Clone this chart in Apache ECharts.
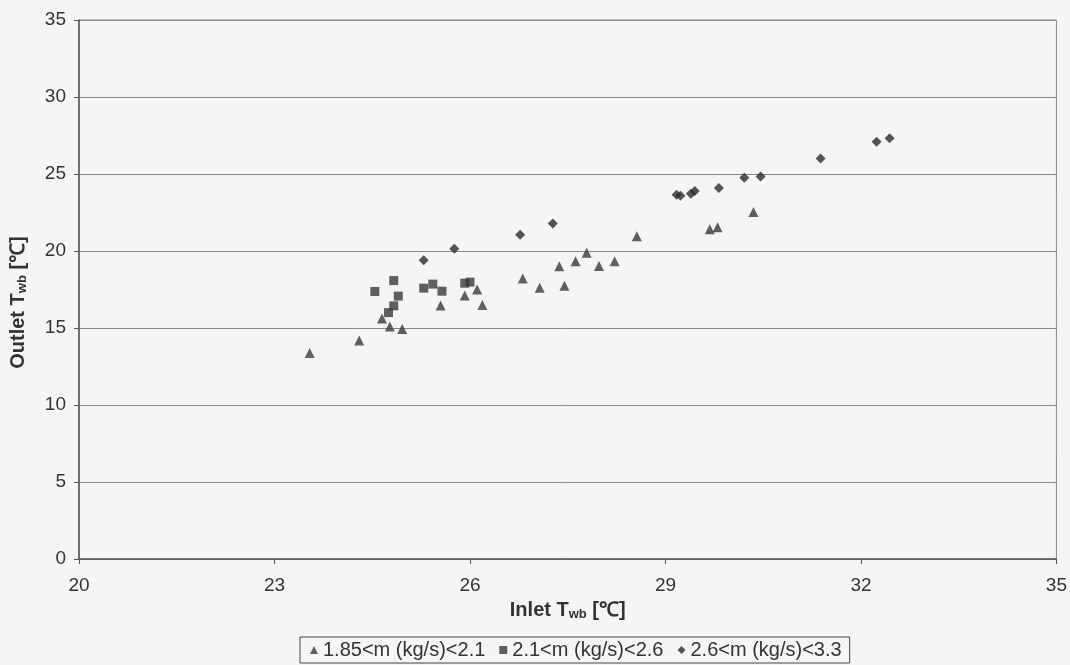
<!DOCTYPE html>
<html><head><meta charset="utf-8">
<script src="https://cdn.jsdelivr.net/npm/echarts@6/dist/echarts.min.js"></script>
<style>html,body{margin:0;padding:0;background:#f5f5f4;}#c{width:1070px;height:665px;}</style>
</head><body><div id="c"></div>
<script>
const seriesNames = ['1.85<m (kg/s)<2.1', '2.1<m (kg/s)<2.6', '2.6<m (kg/s)<3.3'];
const lowX  = [23.54,24.30,24.65,24.77,24.96,25.55,25.92,26.11,26.19,26.81,27.07,27.37,27.45,27.62,27.79,27.98,28.22,28.56,29.68,29.80,30.35];
const lowY  = [13.37,14.19,15.61,15.09,14.93,16.46,17.11,17.50,16.50,18.21,17.61,19.01,17.75,19.34,19.88,19.03,19.34,20.95,21.41,21.54,22.54];
const midX  = [24.54,24.83,24.90,24.83,24.75,25.29,25.43,25.57,25.92,26.00];
const midY  = [17.37,18.08,17.07,16.44,16.00,17.59,17.85,17.39,17.91,17.98];
const highX = [25.29,25.76,26.77,27.27,29.17,29.23,29.39,29.45,29.82,30.21,30.46,31.38,32.24,32.44];
const highY = [19.40,20.14,21.06,21.78,23.66,23.58,23.71,23.90,24.09,24.76,24.83,26.00,27.10,27.32];
const xTicks = [20,23,26,29,32,35];
const yTicks = [0,5,10,15,20,25,30,35];

const pair = (xs, ys) => xs.map((x, i) => [x, ys[i]]);
const ink = '#333';
const font = 'Liberation Sans, Arial, sans-serif';
const nameRich = {
  a: { fontSize: 20, fontWeight: 'bold', color: ink, fontFamily: font },
  s: { fontSize: 13, fontWeight: 'bold', color: ink, fontFamily: font, verticalAlign: 'bottom', padding: [9,0,0,0] }
};

const chart = echarts.init(document.getElementById('c'));
chart.setOption({
  backgroundColor: '#f5f5f4',
  animation: false,
  textStyle: { fontFamily: font, color: ink },
  grid: { left: 79, right: 13, top: 20, bottom: 106, show: true, borderColor: '#8a8a8a', borderWidth: 1 },
  xAxis: {
    type: 'value', min: 20, max: 35, interval: 3,
    axisLine: { show: true, lineStyle: { color: '#555', width: 1.5 } },
    axisTick: { show: true, length: 5, lineStyle: { color: '#555' } },
    splitLine: { show: false },
    axisLabel: { fontSize: 19, color: ink, margin: 17, fontFamily: font,
      formatter: v => xTicks.includes(v) ? String(v) : '' },
    name: '{a|Inlet T}{s|wb}{a| [℃]}',
    nameLocation: 'middle', nameGap: 40,
    nameTextStyle: { rich: nameRich }
  },
  yAxis: {
    type: 'value', min: 0, max: 35, interval: 5,
    axisLine: { show: true, lineStyle: { color: '#555', width: 1.5 } },
    axisTick: { show: true, length: 5, lineStyle: { color: '#555' } },
    splitLine: { show: true, lineStyle: { color: '#8a8a8a', width: 1 } },
    axisLabel: { fontSize: 19, color: ink, margin: 13, fontFamily: font,
      formatter: v => yTicks.includes(v) ? String(v) : '' },
    name: '{a|Outlet T}{s|wb}{a| [℃]}',
    nameLocation: 'middle', nameGap: 50,
    nameTextStyle: { rich: nameRich, padding: [0, 26, 0, 0] }
  },
  legend: {
    bottom: 2, left: 300,
    borderColor: '#444', borderWidth: 1, padding: [3, 8, 3, 10],
    itemWidth: 8, itemHeight: 8, itemGap: 14,
    textStyle: { fontSize: 20, color: ink, fontFamily: font, padding: [0, 0, 0, 0] },
    data: [
      { name: seriesNames[0], icon: 'triangle' },
      { name: seriesNames[1], icon: 'rect' },
      { name: seriesNames[2], icon: 'diamond' }
    ]
  },
  series: [
    { name: seriesNames[0], type: 'scatter', symbol: 'triangle', symbolSize: 10,
      itemStyle: { color: '#3a3a3a' }, data: pair(lowX, lowY) },
    { name: seriesNames[1], type: 'scatter', symbol: 'rect', symbolSize: 9,
      itemStyle: { color: '#3a3a3a' }, data: pair(midX, midY) },
    { name: seriesNames[2], type: 'scatter', symbol: 'diamond', symbolSize: 10,
      itemStyle: { color: '#2a2a2a' }, data: pair(highX, highY) }
  ]
});
</script></body></html>
